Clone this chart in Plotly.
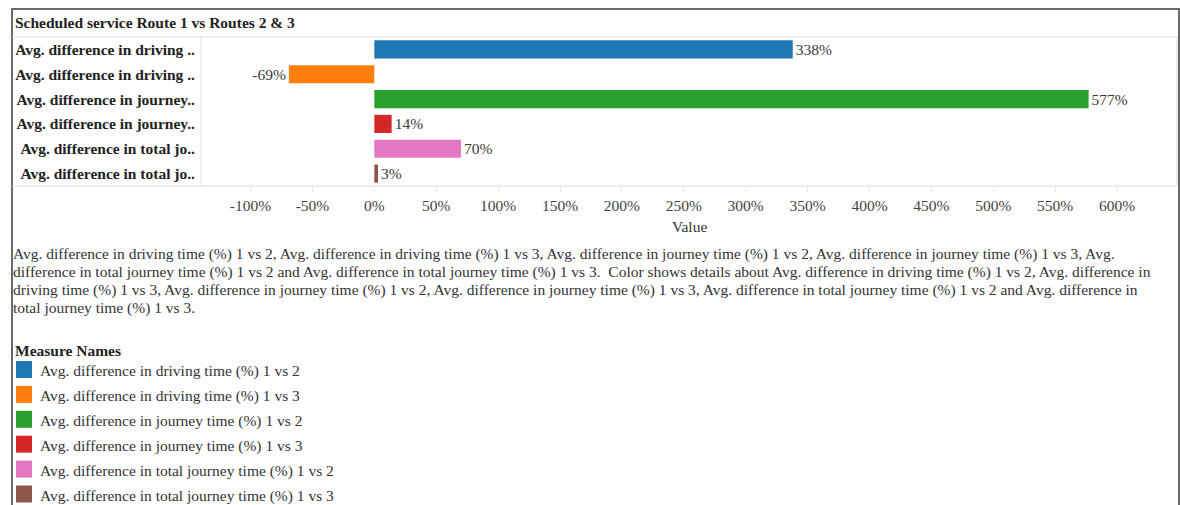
import plotly.graph_objects as go

# ---- data ----
measures = [
    "Avg. difference in driving time (%) 1 vs 2",
    "Avg. difference in driving time (%) 1 vs 3",
    "Avg. difference in journey time (%) 1 vs 2",
    "Avg. difference in journey time (%) 1 vs 3",
    "Avg. difference in total journey time (%) 1 vs 2",
    "Avg. difference in total journey time (%) 1 vs 3",
]
row_labels = [
    "Avg. difference in driving ..",
    "Avg. difference in driving ..",
    "Avg. difference in journey..",
    "Avg. difference in journey..",
    "Avg. difference in total jo..",
    "Avg. difference in total jo..",
]
values = [338, -69, 577, 14, 70, 3]
colors = ["#1f77b4", "#ff7f0e", "#2ca02c", "#d62728", "#e377c2", "#8c564b"]
tick_vals = [-100, -50, 0, 50, 100, 150, 200, 250, 300, 350, 400, 450, 500, 550, 600]
tick_text = [f"{v}%" for v in tick_vals]

title_text = "Scheduled service Route 1 vs Routes 2 & 3"
legend_title = "Measure Names"
axis_title = "Value"
desc_lines = [
    "Avg. difference in driving time (%) 1 vs 2, Avg. difference in driving time (%) 1 vs 3, Avg. difference in journey time (%) 1 vs 2, Avg. difference in journey time (%) 1 vs 3, Avg.",
    "difference in total journey time (%) 1 vs 2 and Avg. difference in total journey time (%) 1 vs 3.&nbsp; Color shows details about Avg. difference in driving time (%) 1 vs 2, Avg. difference in",
    "driving time (%) 1 vs 3, Avg. difference in journey time (%) 1 vs 2, Avg. difference in journey time (%) 1 vs 3, Avg. difference in total journey time (%) 1 vs 2 and Avg. difference in",
    "total journey time (%) 1 vs 3.",
]

# ---- layout helpers ----
W, H = 1180, 505
FONT = "Liberation Serif, Times New Roman, serif"
FS = 15.5


def px(x):
    return x / W


def py(y):
    return 1 - y / H


PLOT_L, PLOT_R, PLOT_T, PLOT_B = 201, 1177, 37, 186

fig = go.Figure()
fig.add_trace(go.Bar(
    x=values,
    y=measures,
    orientation="h",
    marker=dict(color=colors, line=dict(width=0)),
    width=0.73,
    text=[f"{v}%" for v in values],
    textposition="outside",
    textfont=dict(family=FONT, size=FS, color="#3a3a3a"),
    cliponaxis=False,
    showlegend=False,
    hoverinfo="skip",
))

shapes = []
annotations = []

# borders
line_light = dict(color="#dcdcdc", width=1)
shapes.append(dict(type="rect", xref="paper", yref="paper",
                   x0=px(12), x1=px(1179), y0=py(9), y1=py(508),
                   line=dict(color="#6a6a6a", width=2)))
shapes.append(dict(type="line", xref="paper", yref="paper",
                   x0=px(12), x1=px(PLOT_R), y0=py(PLOT_T), y1=py(PLOT_T), line=line_light))
shapes.append(dict(type="line", xref="paper", yref="paper",
                   x0=px(12), x1=px(PLOT_R), y0=py(PLOT_B), y1=py(PLOT_B), line=line_light))
shapes.append(dict(type="line", xref="paper", yref="paper",
                   x0=px(PLOT_L), x1=px(PLOT_L), y0=py(PLOT_T), y1=py(PLOT_B), line=line_light))
shapes.append(dict(type="line", xref="paper", yref="paper",
                   x0=px(PLOT_R), x1=px(PLOT_R), y0=py(PLOT_T), y1=py(PLOT_B), line=line_light))

# title
annotations.append(dict(text=f"<b>{title_text}</b>", xref="paper", yref="paper",
                        x=px(13), y=py(22.5), xanchor="left", yanchor="middle",
                        showarrow=False, font=dict(family=FONT, size=FS, color="#222")))
# axis title
annotations.append(dict(text=axis_title, xref="paper", yref="paper",
                        x=px((PLOT_L + PLOT_R) / 2), y=py(227), xanchor="center", yanchor="middle",
                        showarrow=False, font=dict(family=FONT, size=FS, color="#333")))
# description
desc_y = [253.5, 271.8, 290, 308.3]
for line, yy in zip(desc_lines, desc_y):
    annotations.append(dict(text=line, xref="paper", yref="paper",
                            x=px(11), y=py(yy), xanchor="left", yanchor="middle",
                            showarrow=False, font=dict(family=FONT, size=FS, color="#333")))
# legend
annotations.append(dict(text=f"<b>{legend_title}</b>", xref="paper", yref="paper",
                        x=px(13), y=py(350), xanchor="left", yanchor="middle",
                        showarrow=False, font=dict(family=FONT, size=FS, color="#222")))
for i, (m, c) in enumerate(zip(measures, colors)):
    cy = 369.5 + i * 24.9
    shapes.append(dict(type="rect", xref="paper", yref="paper",
                       x0=px(16), x1=px(32), y0=py(cy - 8.5), y1=py(cy + 8.5),
                       fillcolor=c, line=dict(width=0)))
    annotations.append(dict(text=m, xref="paper", yref="paper",
                            x=px(38), y=py(cy + 1.5), xanchor="left", yanchor="middle",
                            showarrow=False, font=dict(family=FONT, size=FS, color="#333")))

fig.update_layout(
    width=W, height=H,
    margin=dict(l=0, r=0, t=0, b=0),
    paper_bgcolor="white", plot_bgcolor="white",
    font=dict(family=FONT, size=FS, color="#333"),
    shapes=shapes,
    annotations=annotations,
    bargap=0.27,
    xaxis=dict(
        domain=[px(PLOT_L), px(PLOT_R)],
        range=[-140, 648.4],
        tickvals=tick_vals, ticktext=tick_text,
        showgrid=False, zeroline=False, showline=False,
        ticks="outside", ticklen=5, tickcolor="#e4e4e4",
        tickfont=dict(family=FONT, size=FS, color="#444"),
        fixedrange=True,
    ),
    yaxis=dict(
        domain=[py(PLOT_B), py(PLOT_T)],
        autorange="reversed",
        tickvals=measures,
        ticktext=[f"<b>{t}</b>" for t in row_labels],
        showgrid=False, zeroline=False, showline=False,
        ticks="", ticklabelstandoff=5,
        tickfont=dict(family=FONT, size=FS, color="#222"),
        fixedrange=True,
    ),
)

fig.write_html("out.html")
